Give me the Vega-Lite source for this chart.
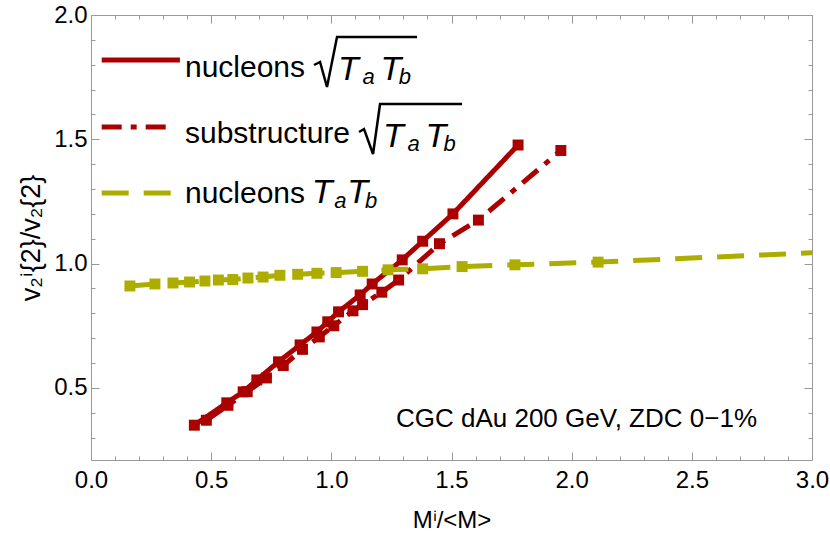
{
  "$schema": "https://vega.github.io/schema/vega-lite/v6.json",
  "width": 721,
  "height": 445,
  "autosize": "none",
  "padding": {"left": 91, "top": 15, "right": 18, "bottom": 80},
  "background": "white",
  "config": {"view": {"stroke": null}, "font": "Liberation Sans"},
  "datasets": {
    "series": [
      {"s": "a", "x": 0.43, "y": 0.35},
      {"s": "a", "x": 0.565, "y": 0.44},
      {"s": "a", "x": 0.633, "y": 0.484},
      {"s": "a", "x": 0.69, "y": 0.532},
      {"s": "a", "x": 0.78, "y": 0.605},
      {"s": "a", "x": 0.87, "y": 0.673},
      {"s": "a", "x": 0.94, "y": 0.725},
      {"s": "a", "x": 0.985, "y": 0.766},
      {"s": "a", "x": 1.03, "y": 0.806},
      {"s": "a", "x": 1.12, "y": 0.874},
      {"s": "a", "x": 1.17, "y": 0.918},
      {"s": "a", "x": 1.295, "y": 1.015},
      {"s": "a", "x": 1.38, "y": 1.09},
      {"s": "a", "x": 1.506, "y": 1.2},
      {"s": "a", "x": 1.777, "y": 1.477},
      {"s": "b", "x": 0.48, "y": 0.37},
      {"s": "b", "x": 0.57, "y": 0.43},
      {"s": "b", "x": 0.65, "y": 0.485},
      {"s": "b", "x": 0.73, "y": 0.54},
      {"s": "b", "x": 0.8, "y": 0.59},
      {"s": "b", "x": 0.88, "y": 0.655},
      {"s": "b", "x": 0.95, "y": 0.705},
      {"s": "b", "x": 1.01, "y": 0.75},
      {"s": "b", "x": 1.09, "y": 0.81},
      {"s": "b", "x": 1.13, "y": 0.835},
      {"s": "b", "x": 1.21, "y": 0.885},
      {"s": "b", "x": 1.28, "y": 0.934},
      {"s": "b", "x": 1.45, "y": 1.08},
      {"s": "b", "x": 1.612, "y": 1.175},
      {"s": "b", "x": 1.955, "y": 1.455},
      {"s": "c", "x": 0.162, "y": 0.91},
      {"s": "c", "x": 0.266, "y": 0.918},
      {"s": "c", "x": 0.341, "y": 0.922},
      {"s": "c", "x": 0.41, "y": 0.926},
      {"s": "c", "x": 0.474, "y": 0.93},
      {"s": "c", "x": 0.53, "y": 0.934},
      {"s": "c", "x": 0.59, "y": 0.936},
      {"s": "c", "x": 0.653, "y": 0.942},
      {"s": "c", "x": 0.716, "y": 0.946},
      {"s": "c", "x": 0.786, "y": 0.953},
      {"s": "c", "x": 0.86, "y": 0.957},
      {"s": "c", "x": 0.94, "y": 0.961},
      {"s": "c", "x": 1.02, "y": 0.964},
      {"s": "c", "x": 1.13, "y": 0.969},
      {"s": "c", "x": 1.236, "y": 0.975},
      {"s": "c", "x": 1.38, "y": 0.979},
      {"s": "c", "x": 1.544, "y": 0.988},
      {"s": "c", "x": 1.764, "y": 0.995},
      {"s": "c", "x": 2.11, "y": 1.006},
      {"s": "c", "x": 3.3, "y": 1.056}
    ],
    "legline": [
      {"s": "a", "x": 0.0445, "x2": 0.37, "y": 1.819},
      {"s": "b", "x": 0.0445, "x2": 0.341, "y": 1.5495},
      {"s": "c", "x": 0.0445, "x2": 0.341, "y": 1.284}
    ],
    "radical": [
      {"r": 1, "o": 1, "x": 0.928, "y": 1.7989},
      {"r": 1, "o": 2, "x": 0.953, "y": 1.811},
      {"r": 1, "o": 3, "x": 0.982, "y": 1.7104},
      {"r": 1, "o": 4, "x": 1.0237, "y": 1.9115},
      {"r": 1, "o": 5, "x": 1.3566, "y": 1.9115},
      {"r": 2, "o": 1, "x": 1.1153, "y": 1.5294},
      {"r": 2, "o": 2, "x": 1.136, "y": 1.5414},
      {"r": 2, "o": 3, "x": 1.1735, "y": 1.4409},
      {"r": 2, "o": 4, "x": 1.2027, "y": 1.642},
      {"r": 2, "o": 5, "x": 1.5439, "y": 1.642}
    ],
    "legtext": [
      {"k": "reg", "x": 0.391, "y": 1.7506, "t": "nucleons"},
      {"k": "it", "x": 1.028, "y": 1.7385, "t": "T"},
      {"k": "sub", "x": 1.13, "y": 1.7225, "t": "a"},
      {"k": "it", "x": 1.205, "y": 1.7385, "t": "T"},
      {"k": "sub", "x": 1.28, "y": 1.7225, "t": "b"},
      {"k": "reg", "x": 0.391, "y": 1.485, "t": "substructure"},
      {"k": "it", "x": 1.215, "y": 1.469, "t": "T"},
      {"k": "sub", "x": 1.317, "y": 1.453, "t": "a"},
      {"k": "it", "x": 1.392, "y": 1.469, "t": "T"},
      {"k": "sub", "x": 1.467, "y": 1.453, "t": "b"},
      {"k": "reg", "x": 0.391, "y": 1.244, "t": "nucleons"},
      {"k": "it", "x": 0.918, "y": 1.244, "t": "T"},
      {"k": "sub", "x": 1.012, "y": 1.224, "t": "a"},
      {"k": "it", "x": 1.066, "y": 1.244, "t": "T"},
      {"k": "sub", "x": 1.14, "y": 1.224, "t": "b"}
    ],
    "note": [{"x": 2.02, "y": 0.343, "t": "CGC dAu 200 GeV, ZDC 0−1%"}]
  },
  "layer": [
    {
      "encoding": {
        "x": {
          "field": "x",
          "type": "quantitative",
          "scale": {"domain": [0, 3], "nice": false, "zero": false},
          "axis": {
            "orient": "bottom",
            "values": [0,0.1,0.2,0.3,0.4,0.5,0.6,0.7,0.8,0.9,1,1.1,1.2,1.3,1.4,1.5,1.6,1.7,1.8,1.9,2,2.1,2.2,2.3,2.4,2.5,2.6,2.7,2.8,2.9,3],
            "labelExpr": "round(datum.value*10)%5==0 ? format(datum.value,'.1f') : ''",
            "tickSize": {"condition": {"test": "round(datum.value*10)%5==0", "value": -8}, "value": -4},
            "domainColor": "#999999",
            "tickColor": "#999999",
            "labelColor": "black",
            "labelFontSize": 24,
            "labelPadding": 16,
            "labelOverlap": false,
            "labelFlush": false,
            "grid": false,
            "title": "Mⁱ/<M>",
            "titleFontSize": 24,
            "titleFontWeight": "normal",
            "titleColor": "black",
            "titlePadding": 12
          }
        },
        "y": {
          "field": "y",
          "type": "quantitative",
          "scale": {"domain": [0.21, 2.0], "nice": false, "zero": false},
          "axis": {
            "orient": "left",
            "values": [0.3,0.4,0.5,0.6,0.7,0.8,0.9,1,1.1,1.2,1.3,1.4,1.5,1.6,1.7,1.8,1.9,2],
            "labelExpr": "round(datum.value*10)%5==0 ? format(datum.value,'.1f') : ''",
            "tickSize": {"condition": {"test": "round(datum.value*10)%5==0", "value": -8}, "value": -4},
            "domainColor": "#999999",
            "tickColor": "#999999",
            "labelColor": "black",
            "labelFontSize": 24,
            "labelPadding": 12,
            "labelOverlap": false,
            "labelFlush": false,
            "grid": false,
            "title": "v₂ⁱ{2}/v₂{2}",
            "titleFontSize": 27,
            "titleFontWeight": "normal",
            "titleColor": "black",
            "titlePadding": 8
          }
        }
      },
      "layer": [
        {
          "data": {"name": "series"},
          "mark": {"type": "line", "strokeWidth": 5, "clip": true},
          "encoding": {
            "color": {"field": "s", "type": "nominal", "scale": {"domain": ["a","b","c"], "range": ["#aa0000","#aa0000","#adad00"]}, "legend": null},
            "strokeDash": {"field": "s", "type": "nominal", "scale": {"domain": ["a","b","c"], "range": [[1,0],[20,9,6,9],[27,15]]}, "legend": null}
          }
        },
        {
          "data": {"name": "series"},
          "mark": {"type": "point", "shape": "square", "filled": true, "size": 120, "opacity": 1, "clip": true},
          "encoding": {
            "color": {"field": "s", "type": "nominal", "scale": {"domain": ["a","b","c"], "range": ["#aa0000","#aa0000","#adad00"]}, "legend": null}
          }
        },
        {
          "data": {"name": "legline"},
          "mark": {"type": "rule", "strokeWidth": 5},
          "encoding": {
            "x2": {"field": "x2"},
            "color": {"field": "s", "type": "nominal", "scale": {"domain": ["a","b","c"], "range": ["#aa0000","#aa0000","#adad00"]}, "legend": null},
            "strokeDash": {"field": "s", "type": "nominal", "scale": {"domain": ["a","b","c"], "range": [[1,0],[20,9,6,9],[27,15]]}, "legend": null}
          }
        },
        {
          "data": {"name": "radical"},
          "mark": {"type": "line", "strokeWidth": 2.5, "color": "black", "strokeJoin": "miter"},
          "encoding": {
            "detail": {"field": "r"},
            "order": {"field": "o"}
          }
        },
        {
          "data": {"name": "legtext"},
          "transform": [{"filter": "datum.k == 'reg'"}],
          "mark": {"type": "text", "align": "left", "baseline": "alphabetic", "fontSize": 30, "color": "black"},
          "encoding": {"text": {"field": "t"}}
        },
        {
          "data": {"name": "legtext"},
          "transform": [{"filter": "datum.k == 'it'"}],
          "mark": {"type": "text", "align": "left", "baseline": "alphabetic", "fontSize": 34, "fontStyle": "italic", "color": "black"},
          "encoding": {"text": {"field": "t"}}
        },
        {
          "data": {"name": "legtext"},
          "transform": [{"filter": "datum.k == 'sub'"}],
          "mark": {"type": "text", "align": "left", "baseline": "alphabetic", "fontSize": 22, "fontStyle": "italic", "color": "black"},
          "encoding": {"text": {"field": "t"}}
        }
      ]
    },
    {
      "data": {"name": "note"},
      "mark": {"type": "text", "align": "center", "baseline": "alphabetic", "fontSize": 26, "color": "black"},
      "encoding": {
        "x": {
          "field": "x",
          "type": "quantitative",
          "scale": {"domain": [0, 3], "nice": false, "zero": false},
          "axis": {
            "orient": "top",
            "values": [0,0.1,0.2,0.3,0.4,0.5,0.6,0.7,0.8,0.9,1,1.1,1.2,1.3,1.4,1.5,1.6,1.7,1.8,1.9,2,2.1,2.2,2.3,2.4,2.5,2.6,2.7,2.8,2.9,3],
            "labels": false,
            "tickSize": {"condition": {"test": "round(datum.value*10)%5==0", "value": -8}, "value": -4},
            "domainColor": "#999999",
            "tickColor": "#999999",
            "grid": false,
            "title": null
          }
        },
        "y": {
          "field": "y",
          "type": "quantitative",
          "scale": {"domain": [0.21, 2.0], "nice": false, "zero": false},
          "axis": {
            "orient": "right",
            "values": [0.3,0.4,0.5,0.6,0.7,0.8,0.9,1,1.1,1.2,1.3,1.4,1.5,1.6,1.7,1.8,1.9,2],
            "labels": false,
            "tickSize": {"condition": {"test": "round(datum.value*10)%5==0", "value": -8}, "value": -4},
            "domainColor": "#999999",
            "tickColor": "#999999",
            "grid": false,
            "title": null
          }
        },
        "text": {"field": "t"}
      }
    }
  ],
  "resolve": {"axis": {"x": "independent", "y": "independent"}}
}
